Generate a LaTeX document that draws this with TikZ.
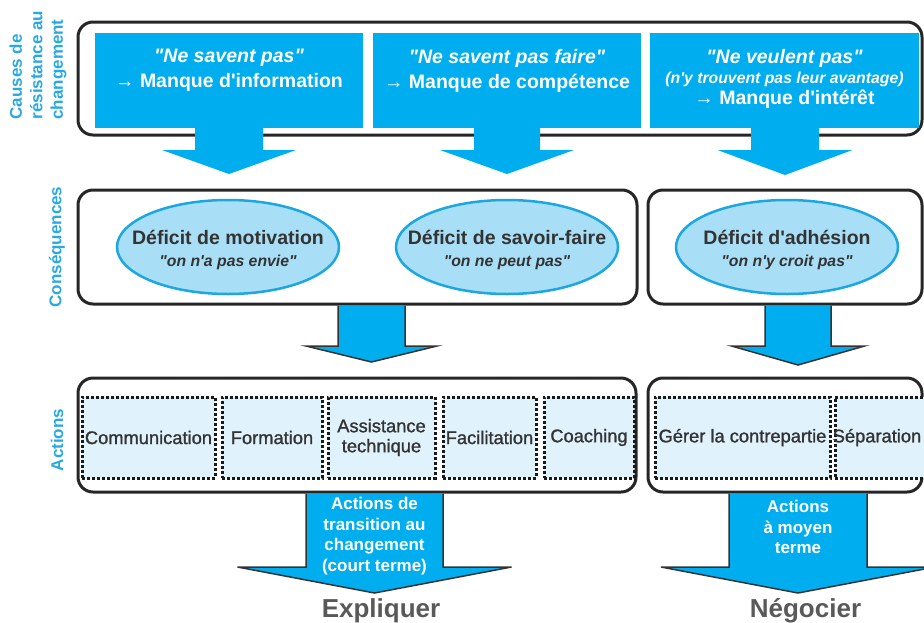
\documentclass[tikz,border=0pt]{standalone}
\usepackage{fontspec}
\setmainfont{Liberation Sans}[Ligatures=TeXOff]
\newfontfamily\actfont{Liberation Sans}[Ligatures=TeXOff, FakeBold=1.2]
\usetikzlibrary{shapes.geometric, positioning}

\definecolor{boxblue}{HTML}{00AEEF}
\definecolor{ellfill}{HTML}{A9DEF7}
\definecolor{ellline}{HTML}{1CA7E1}
\definecolor{actfill}{HTML}{E0F2FC}
\definecolor{sidecyan}{HTML}{29A9E1}
\definecolor{textgray}{HTML}{333333}
\definecolor{verbgray}{HTML}{595959}

% block arrow: [outline] {x} {y top} {y head} {stem half} {head half} {y tip}
\newcommand{\blockarrow}[7][draw=none]{%
  \fill[boxblue] ({#2-#5},#3) -- ({#2-#5},#4) -- ({#2-#6},#4) -- (#2,#7)
    -- ({#2+#6},#4) -- ({#2+#5},#4) -- ({#2+#5},#3) -- cycle;
  \draw[#1] ({#2-#5},#3) -- ({#2-#5},#4) -- ({#2-#6},#4) -- (#2,#7)
    -- ({#2+#6},#4) -- ({#2+#5},#4) -- ({#2+#5},#3);
}

\begin{document}
\begin{tikzpicture}[x=1pt, y=-1pt,
    frame/.style={draw=black!85, line width=3pt, rounded corners=15pt},
    cause/.style={fill=boxblue, minimum width=268pt, minimum height=95pt, inner sep=0pt},
    causetxt/.style={text=white, align=center, font=\bfseries\fontsize{19.5}{25}\selectfont},
    deficit/.style={ellipse, draw=ellline, line width=2.5pt, fill=ellfill,
        minimum width=222pt, minimum height=94pt, inner sep=0pt},
    deftxt/.style={text=textgray, align=center, font=\bfseries\fontsize{19.5}{22}\selectfont},
    action/.style={draw=black!90, line width=3pt, dash pattern=on 3pt off 2pt,
        fill=actfill, minimum height=81pt, inner sep=0pt, text=textgray,
        align=center, font=\actfont\fontsize{18.3}{20}\selectfont},
    side/.style={rotate=90, text=sidecyan, font=\bfseries\fontsize{17}{20.5}\selectfont},
    arrowtxt/.style={text=white, align=center, font=\bfseries\fontsize{17}{20.5}\selectfont},
    verb/.style={anchor=base, text=verbgray, font=\bfseries\fontsize{26}{30}\selectfont},
    outline/.style={draw=black!80, line width=1.5pt, line join=miter}
]
    \useasboundingbox (0,0) rectangle (924,622);
    \clip (0,0) rectangle (924,622);

    % Causes row
    \draw[frame] (78,22) rectangle (922,135);
    \blockarrow{229}{120}{150}{34}{67}{174}
    \blockarrow{507}{120}{150}{33}{67}{174}
    \blockarrow{785}{120}{150}{34}{67.5}{175}
    \node[cause] (causeA) at (229,80) {};
    \node[cause] (causeB) at (507,80) {};
    \node[cause, minimum width=269pt] (causeC) at (784.5,80.5) {};
    \node[causetxt] (txtA) at (229,70.5) {{\itshape "Ne savent pas"}\\→ Manque d'information};
    \node[causetxt] (txtB) at (507,70.5) {{\itshape "Ne savent pas faire"}\\→ Manque de compétence};
    \node[causetxt, font=\bfseries\fontsize{19.5}{20.5}\selectfont] (txtC) at (784.5,78.5)
        {{\itshape "Ne veulent pas"}\\{\itshape\fontsize{15.8}{20.5}\selectfont (n'y trouvent pas leur avantage)}\\→ Manque d'intérêt};

    % Consequences row
    \draw[frame] (78,190) rectangle (637,304);
    \draw[frame] (648,190) rectangle (922,304);
    \node[deficit] (defMotiv) at (228,247) {};
    \node[deficit] (defSavoir) at (507,247) {};
    \node[deficit] (defAdh) at (787,247) {};
    \node[deftxt] at ([yshift=-3pt]defMotiv.center) {Déficit de motivation\\{\itshape\fontsize{15.8}{20}\selectfont "on n'a pas envie"}};
    \node[deftxt] at ([yshift=-3pt]defSavoir.center) {Déficit de savoir-faire\\{\itshape\fontsize{15.8}{20}\selectfont "on ne peut pas"}};
    \node[deftxt] at ([yshift=-3pt]defAdh.center) {Déficit d'adhésion\\{\itshape\fontsize{15.8}{20}\selectfont "on n'y croit pas"}};
    \blockarrow[outline]{371.5}{305.5}{346}{33.5}{65.5}{362}
    \blockarrow[outline]{798}{305.5}{346}{33}{66.5}{365}

    % Actions row
    \draw[frame] (78,378) rectangle (636,492);
    \draw[frame] (648,378) rectangle (922,492);
    \node[action, minimum width=133pt] (actComm) at (148.5,437.5) {Communication};
    \node[action, minimum width=100pt] (actForm) at (272,437.5) {Formation};
    \node[action, minimum width=107pt] (actAssist) at (381.5,437.5) {Assistance\\technique};
    \node[action, minimum width=93pt] (actFacil) at (489.5,437.5) {Facilitation};
    \node[action, minimum width=90pt] (actCoach) at (589,437.5) {Coaching};
    \node[action, minimum width=175pt] (actGerer) at (742.5,437.5) {Gérer la contrepartie};
    \node[action, minimum width=96pt] (actSep) at (883,437.5) {};
    \node[text=textgray, font=\actfont\fontsize{18.3}{20}\selectfont] at ([xshift=-6pt]actSep.center) {Séparation};

    % Outcome arrows
    \blockarrow[outline]{374.5}{493.5}{567}{68.5}{137}{593}
    \blockarrow[outline]{798}{493.5}{567}{69}{137}{593}
    \node[arrowtxt] (transTxt) at (374.5,536) {Actions de\\transition au\\changement\\(court terme)};
    \node[arrowtxt] (moyenTxt) at (798,527) {Actions\\à moyen\\terme};
    \node[verb] (expliquer) at (381,617) {Expliquer};
    \node[verb] (negocier) at (805.5,617) {Négocier};

    % Row labels
    \node[side, anchor=west, align=left] (sideCauses) at (38,123) {Causes de\\résistance au\\changement};
    \node[side] (sideConseq) at (57,247) {Conséquences};
    \node[side] (sideActions) at (57,440) {Actions};
\end{tikzpicture}
\end{document}
